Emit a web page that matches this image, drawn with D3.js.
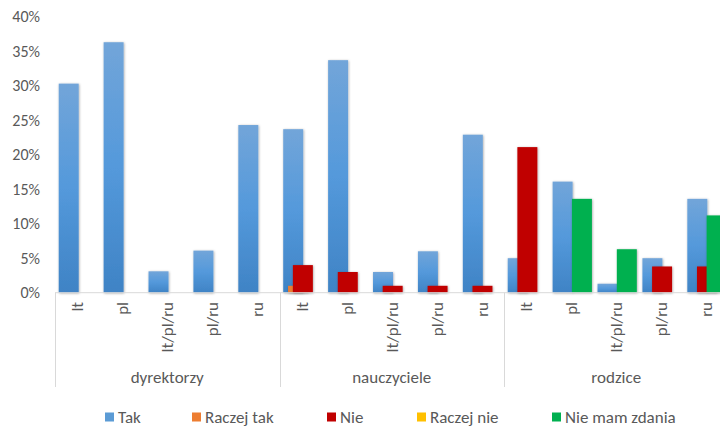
<!DOCTYPE html>
<html>
<head>
<meta charset="utf-8">
<script src="https://cdn.jsdelivr.net/npm/d3@7"></script>
<style>
  body { margin: 0; background: #fff; }
  text { font-family: Carlito, Calibri, "Liberation Sans", Arial, sans-serif; fill: #595959; font-size: 17px; }
  text.ytick { font-size: 16px; }
</style>
</head>
<body>
<svg width="720" height="427"></svg>
<script>
const groups = ["dyrektorzy", "nauczyciele", "rodzice"];
const categories = ["lt", "pl", "lt/pl/ru", "pl/ru", "ru"];
const seriesNames = ["Tak", "Raczej tak", "Nie", "Raczej nie", "Nie mam zdania"];
const seriesColors = ["#5b9bd5", "#ed7d31", "#c00000", "#ffc000", "#00b050"];

// wartości w % (dyrektorzy, nauczyciele, rodzice)
const tak       = [30.3, 36.3, 3.1, 6.1, 24.3,  23.7, 33.7, 3.0, 6.0, 22.9,  5.0, 16.1, 1.3, 5.0, 13.6];
const raczejTak = [0, 0, 0, 0, 0,               1.0, 0, 0, 0, 0,             0, 0, 0, 0, 0];
const nie       = [0, 0, 0, 0, 0,               4.0, 3.0, 1.0, 1.0, 1.0,     21.1, 0, 0, 3.8, 3.8];
const raczejNie = [0, 0, 0, 0, 0,               0, 0, 0, 0, 0,               0, 0, 0, 0, 0];
const nieMam    = [0, 0, 0, 0, 0,               0, 0, 0, 0, 0,               0, 13.6, 6.3, 0, 11.2];

const yTicks = [0, 5, 10, 15, 20, 25, 30, 35, 40];

const seriesValues = [tak, raczejTak, nie, raczejNie, nieMam];

const svg = d3.select("svg");
const plotLeft = 55, plotTop = 16.7, plotBottom = 292.7;
const catWidth = 44.9;

// kategorie na osi x (grupa + kategoria)
const rows = [];
groups.forEach(g => categories.forEach(c => rows.push({group: g, cat: c})));

const x0 = d3.scaleBand().domain(d3.range(rows.length))
  .range([plotLeft, plotLeft + catWidth * rows.length]).padding(0);
const x1 = d3.scalePoint().domain(seriesNames)
  .range([x0.bandwidth() * 0.083, x0.bandwidth() * 0.513]);
const barW = x0.bandwidth() * 0.445;
const y = d3.scaleLinear().domain([0, 40]).range([plotBottom, plotTop]);

// gradient i cień
const defs = svg.append("defs");
const grad = defs.append("linearGradient").attr("id", "takGrad")
  .attr("x1", 0).attr("y1", 0).attr("x2", 0).attr("y2", 1);
grad.append("stop").attr("offset", "0%").attr("stop-color", "#72a5d9");
grad.append("stop").attr("offset", "50%").attr("stop-color", "#5499db");
grad.append("stop").attr("offset", "100%").attr("stop-color", "#3f83c5");
const shadow = defs.append("filter").attr("id", "shadow")
  .attr("x", "-30%").attr("y", "-30%").attr("width", "160%").attr("height", "160%");
shadow.append("feDropShadow").attr("dx", 0.6).attr("dy", 0.6)
  .attr("stdDeviation", 0.9).attr("flood-color", "#000").attr("flood-opacity", 0.35);

// oś y
svg.append("g").selectAll("text").data(yTicks).join("text")
  .attr("class", "ytick")
  .attr("x", 40).attr("y", d => y(d))
  .attr("dy", "0.35em").attr("text-anchor", "end")
  .text(d => d + "%");

// słupki
seriesNames.forEach((s, si) => {
  svg.append("g").selectAll("rect")
    .data(seriesValues[si].map((v, i) => ({i, v})).filter(d => d.v > 0))
    .join("rect")
      .attr("x", d => x0(d.i) + x1(s))
      .attr("y", d => y(d.v))
      .attr("width", barW)
      .attr("height", d => y(0) - y(d.v))
      .attr("fill", si === 0 ? "url(#takGrad)" : seriesColors[si])
      .attr("filter", "url(#shadow)");
});

// oś x
const axis = svg.append("g");
axis.append("line")
  .attr("x1", plotLeft).attr("x2", 720).attr("y1", plotBottom).attr("y2", plotBottom)
  .attr("stroke", "#d9d9d9");
const sepX = d3.range(groups.length + 1).map(k => plotLeft + k * categories.length * catWidth);
axis.selectAll("line.sep").data(sepX).join("line")
  .attr("class", "sep")
  .attr("x1", d => Math.round(d) + 0.5).attr("x2", d => Math.round(d) + 0.5)
  .attr("y1", plotBottom).attr("y2", 387)
  .attr("stroke", "#d9d9d9");

axis.selectAll("text.cat").data(rows).join("text")
  .attr("class", "cat")
  .attr("transform", (d, i) => `translate(${x0(i) + x0.bandwidth() / 2},302) rotate(-90)`)
  .attr("dy", "0.35em").attr("text-anchor", "end")
  .text(d => d.cat);

axis.selectAll("text.grp").data(groups).join("text")
  .attr("class", "grp")
  .attr("x", (d, k) => (sepX[k] + sepX[k + 1]) / 2)
  .attr("y", 377).attr("dy", "0.35em").attr("text-anchor", "middle")
  .text(d => d);

// legenda
const legendX = [105, 192, 327, 417, 552];
const legend = svg.append("g").selectAll("g").data(seriesNames).join("g")
  .attr("transform", (d, i) => `translate(${legendX[i]},417)`);
legend.append("rect")
  .attr("x", 0).attr("y", -4.5).attr("width", 9).attr("height", 9)
  .attr("fill", (d, i) => seriesColors[i]);
legend.append("text")
  .attr("x", 13).attr("dy", "0.35em")
  .text(d => d);
</script>
</body>
</html>
